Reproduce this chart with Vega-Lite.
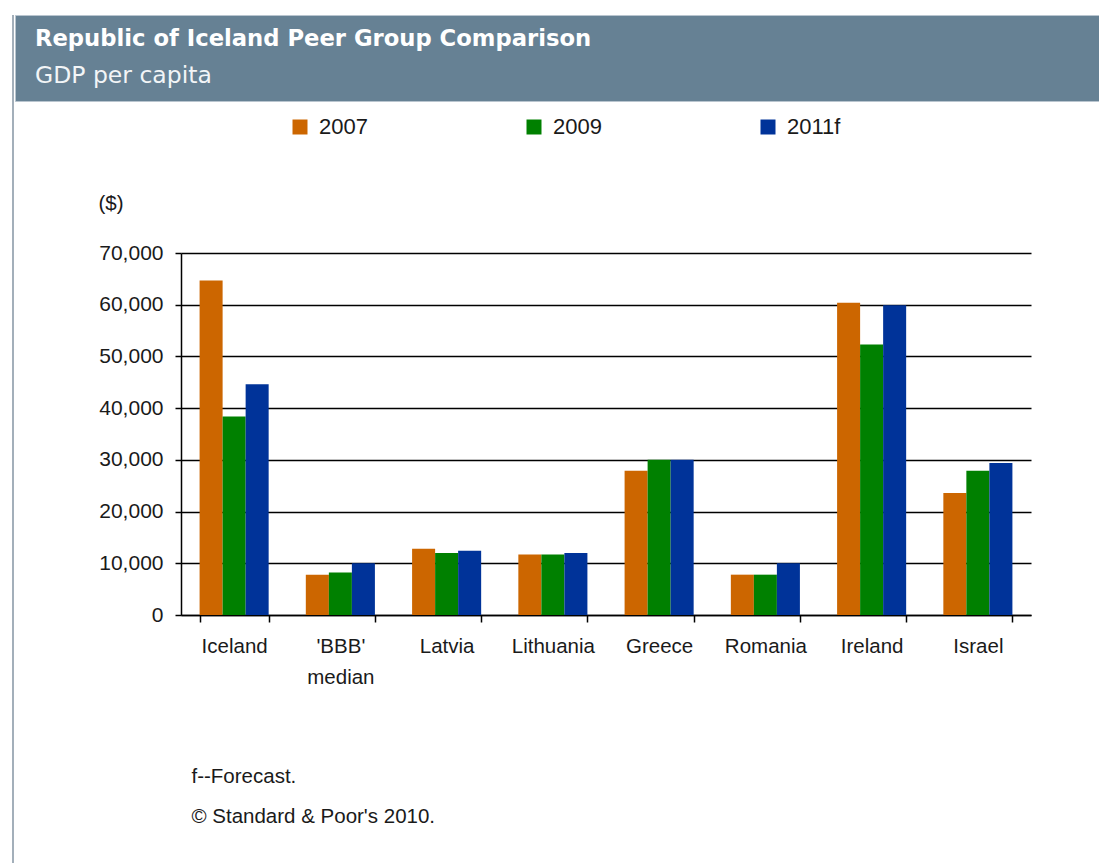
{
  "$schema": "https://vega.github.io/schema/vega-lite/v6.json",
  "background": "#ffffff",
  "padding": {"left": 12, "top": 14, "right": 0, "bottom": 0},
  "config": {"view": {"stroke": null}, "font": "Liberation Sans"},
  "datasets": {
    "gdp": [
      {"country": "Iceland", "year": "2007", "value": 64700},
      {"country": "Iceland", "year": "2009", "value": 38400},
      {"country": "Iceland", "year": "2011f", "value": 44600},
      {"country": "'BBB' median", "year": "2007", "value": 7800},
      {"country": "'BBB' median", "year": "2009", "value": 8200},
      {"country": "'BBB' median", "year": "2011f", "value": 10000},
      {"country": "Latvia", "year": "2007", "value": 12800},
      {"country": "Latvia", "year": "2009", "value": 12000},
      {"country": "Latvia", "year": "2011f", "value": 12400},
      {"country": "Lithuania", "year": "2007", "value": 11700},
      {"country": "Lithuania", "year": "2009", "value": 11700},
      {"country": "Lithuania", "year": "2011f", "value": 12000},
      {"country": "Greece", "year": "2007", "value": 27900},
      {"country": "Greece", "year": "2009", "value": 30000},
      {"country": "Greece", "year": "2011f", "value": 30000},
      {"country": "Romania", "year": "2007", "value": 7800},
      {"country": "Romania", "year": "2009", "value": 7800},
      {"country": "Romania", "year": "2011f", "value": 10000},
      {"country": "Ireland", "year": "2007", "value": 60400},
      {"country": "Ireland", "year": "2009", "value": 52300},
      {"country": "Ireland", "year": "2011f", "value": 59900},
      {"country": "Israel", "year": "2007", "value": 23600},
      {"country": "Israel", "year": "2009", "value": 27900},
      {"country": "Israel", "year": "2011f", "value": 29400}
    ]
  },
  "spacing": 0,
  "hconcat": [
    {
      "width": 2,
      "height": 849,
      "data": {"values": []},
      "mark": "rect",
      "view": {"fill": "#a3afba", "stroke": null}
    },
    {
      "spacing": 91,
      "vconcat": [
        {
          "width": 1085,
          "height": 86,
          "data": {"values": []},
          "mark": "rect",
          "view": {"fill": "#668194", "stroke": "#b9c5cf"},
          "title": {
            "text": "Republic of Iceland Peer Group Comparison",
            "subtitle": "GDP per capita",
            "anchor": "start",
            "frame": "group",
            "orient": "top",
            "offset": -72,
            "dx": 20,
            "font": "DejaVu Sans",
            "fontSize": 22.7,
            "fontWeight": "bold",
            "color": "#ffffff",
            "subtitleFont": "DejaVu Sans",
            "subtitleFontSize": 23.5,
            "subtitleColor": "#f2f5f7",
            "subtitlePadding": 13
          }
        },
        {
          "spacing": 82,
          "hconcat": [
            {
              "width": 1,
              "height": 1,
              "data": {"values": []},
              "mark": "rect",
              "view": {"stroke": null}
            },
            {
              "width": 850,
              "height": 362,
              "data": {"name": "gdp"},
              "mark": {"type": "bar"},
              "encoding": {
                "x": {
                  "field": "country",
                  "type": "nominal",
                  "sort": null,
                  "scale": {"paddingInner": 0.35, "paddingOuter": 0.175},
                  "axis": {
                    "labelAngle": 0,
                    "tickBand": "extent",
                    "domainColor": "#000000",
                    "domainWidth": 1.5,
                    "tickColor": "#000000",
                    "tickWidth": 1.5,
                    "tickSize": 7,
                    "labelPadding": 14,
                    "labelFontSize": 20.5,
                    "labelColor": "#1a1a1a",
                    "labelLineHeight": 31,
                    "labelLimit": 300,
                    "labelExpr": "datum.label == \"'BBB' median\" ? [\"'BBB'\", 'median'] : datum.label",
                    "title": ["f--Forecast.", "© Standard & Poor's 2010."],
                    "titleX": 10,
                    "titleY": 151,
                    "titleAlign": "left",
                    "titleBaseline": "top",
                    "titleFontSize": 20.5,
                    "titleFontWeight": "normal",
                    "titleLineHeight": 40,
                    "titleColor": "#1a1a1a"
                  }
                },
                "xOffset": {
                  "field": "year",
                  "type": "nominal",
                  "scale": {"paddingInner": 0, "paddingOuter": 0}
                },
                "y": {
                  "field": "value",
                  "type": "quantitative",
                  "scale": {"domain": [0, 70000], "nice": false},
                  "axis": {
                    "values": [0, 10000, 20000, 30000, 40000, 50000, 60000, 70000],
                    "format": ",d",
                    "grid": true,
                    "gridColor": "#000000",
                    "gridWidth": 1.5,
                    "gridOpacity": 1,
                    "domainColor": "#000000",
                    "domainWidth": 1.5,
                    "tickColor": "#000000",
                    "tickWidth": 1.5,
                    "tickSize": 6,
                    "labelPadding": 12,
                    "labelFontSize": 21,
                    "labelColor": "#1a1a1a",
                    "title": "($)",
                    "titleAngle": 0,
                    "titleX": -83,
                    "titleY": -50,
                    "titleAlign": "left",
                    "titleBaseline": "middle",
                    "titleFontSize": 20.5,
                    "titleFontWeight": "normal",
                    "titleColor": "#1a1a1a"
                  }
                },
                "color": {
                  "field": "year",
                  "type": "nominal",
                  "scale": {"domain": ["2007", "2009", "2011f"], "range": ["#cc6600", "#008000", "#003399"]},
                  "legend": {
                    "title": null,
                    "orient": "none",
                    "legendX": 277,
                    "legendY": 101,
                    "direction": "horizontal",
                    "symbolType": "square",
                    "symbolSize": 225,
                    "symbolStrokeWidth": 0,
                    "symbolOpacity": 1,
                    "labelFontSize": 22,
                    "labelOffset": 8,
                    "columnPadding": 155,
                    "labelColor": "#1a1a1a",
                    "labelFont": "Liberation Sans"
                  }
                }
              }
            }
          ]
        }
      ]
    }
  ]
}
